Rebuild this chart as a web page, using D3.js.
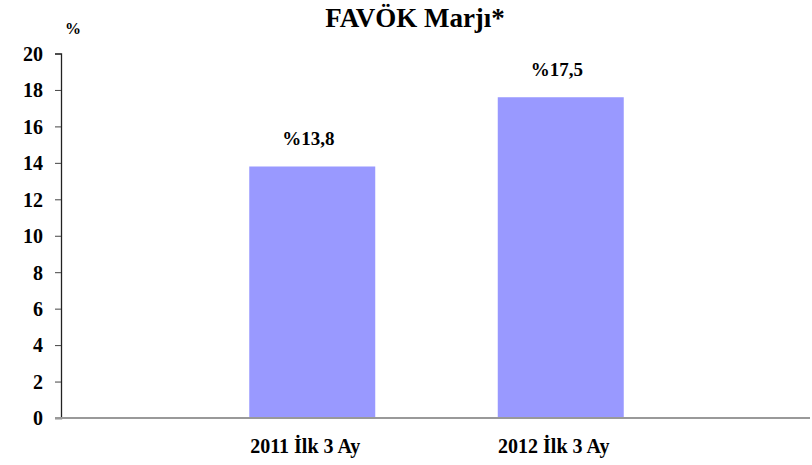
<!DOCTYPE html>
<html>
<head>
<meta charset="utf-8">
<script src="https://cdn.jsdelivr.net/npm/d3@7"></script>
<style>
  body { margin: 0; background: #fff; }
</style>
</head>
<body>
<div id="container"></div>
<script>
const categories = ["2011 İlk 3 Ay", "2012 İlk 3 Ay"];
const values = [13.8, 17.6];
const valueLabels = ["%13,8", "%17,5"];
const yTicks = [0, 2, 4, 6, 8, 10, 12, 14, 16, 18, 20];

const width = 812, height = 465;
const plot = { left: 61, right: 810, top: 53.5, bottom: 418 };
const serif = "Liberation Serif";

const svg = d3.select("#container")
  .append("svg")
  .attr("width", width)
  .attr("height", height)
  .attr("font-family", serif);

const y = d3.scaleLinear().domain([0, 20]).range([plot.bottom, plot.top]);

const x = d3.scaleBand()
  .domain(categories)
  .range([188, 685])
  .paddingInner(0.493)
  .paddingOuter(0.2465);

// title
svg.append("text")
  .attr("x", 415)
  .attr("y", 27)
  .attr("text-anchor", "middle")
  .attr("font-size", "27px")
  .attr("font-weight", "bold")
  .text("FAVÖK Marjı*");

// unit
svg.append("text")
  .attr("x", 65)
  .attr("y", 34)
  .attr("font-size", "16px")
  .attr("font-weight", "bold")
  .text("%");

// bars
svg.selectAll(".bar")
  .data(values)
  .enter()
  .append("rect")
  .attr("class", "bar")
  .attr("x", (d, i) => x(categories[i]))
  .attr("width", x.bandwidth())
  .attr("y", (d) => y(d))
  .attr("height", (d) => y(0) - y(d))
  .style("fill", "#9999ff");

// value labels
svg.selectAll(".val")
  .data(values)
  .enter()
  .append("text")
  .attr("class", "val")
  .attr("x", (d, i) => x(categories[i]) + x.bandwidth() / 2 - 4)
  .attr("y", (d) => y(d) - 21)
  .attr("text-anchor", "middle")
  .attr("font-size", "19px")
  .attr("font-weight", "bold")
  .text((d, i) => valueLabels[i]);

// y axis
const yAxis = d3.axisLeft(y).tickValues(yTicks).tickSize(6).tickPadding(12);
const gy = svg.append("g")
  .attr("transform", `translate(${plot.left},0)`)
  .call(yAxis)
  .attr("font-family", serif);
gy.select(".domain").attr("stroke", "#222").attr("stroke-width", 1.3);
gy.selectAll(".tick line").attr("stroke", "#444");
gy.selectAll(".tick text")
  .attr("font-size", "20px")
  .attr("font-weight", "bold")
  .attr("fill", "#000")
  .attr("dy", "0.34em");

// baseline
svg.append("line")
  .attr("x1", plot.left - 6)
  .attr("x2", plot.right)
  .attr("y1", y(0))
  .attr("y2", y(0))
  .attr("stroke", "#999")
  .attr("stroke-width", 2);

// category labels
svg.selectAll(".cat")
  .data(categories)
  .enter()
  .append("text")
  .attr("class", "cat")
  .attr("x", (d) => x(d) + x.bandwidth() / 2 - 7)
  .attr("y", 453)
  .attr("text-anchor", "middle")
  .attr("font-size", "20px")
  .attr("font-weight", "bold")
  .text((d) => d);
</script>
</body>
</html>
